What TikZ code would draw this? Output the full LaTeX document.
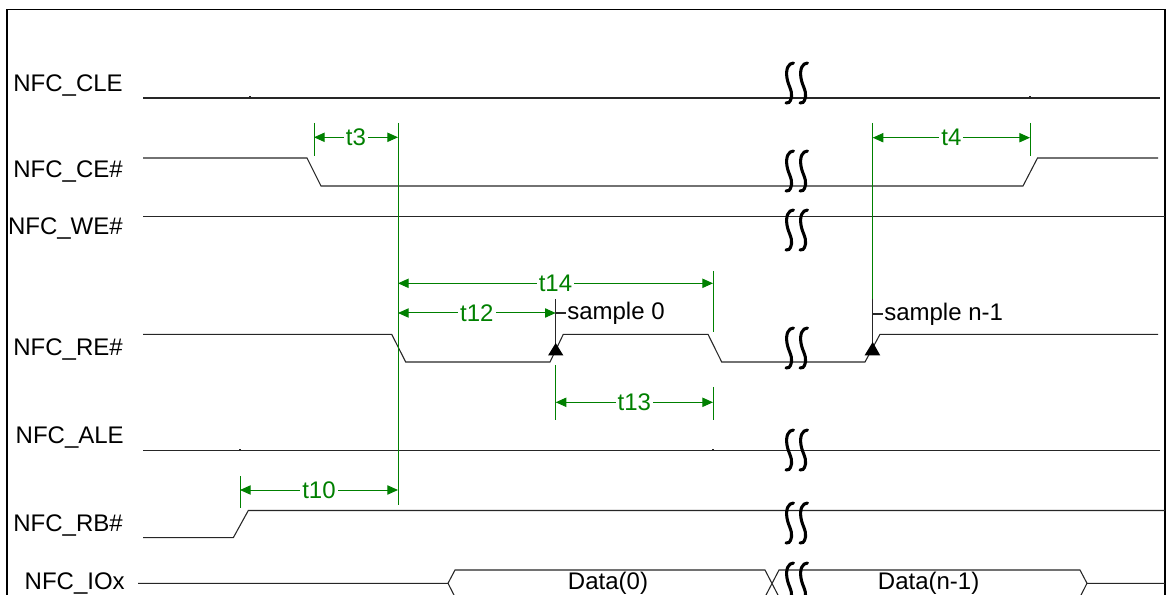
\documentclass[tikz,border=0pt]{standalone}
\usepackage{fontspec}
\setmainfont{Liberation Sans}
\usetikzlibrary{arrows.meta}
\definecolor{tgreen}{RGB}{0,128,0}
\begin{document}
\begin{tikzpicture}[x=0.75pt,y=-0.75pt,
  sig/.style={line width=0.8pt, black!85},
  ggl/.style={line width=0.75pt, tgreen},
  dimarrow/.style={ggl, {Triangle[length=8pt,width=7pt]}-{Triangle[length=8pt,width=7pt]}},
  dlab/.style={fill=white, text=tgreen, inner sep=1.5pt, font=\fontsize{18}{21}\selectfont},
  slab/.style={anchor=base east, inner sep=0pt, font=\fontsize{18}{21}\selectfont},
  tlab/.style={inner sep=0pt, font=\fontsize{18}{21}\selectfont},
  brk/.style={line width=2.3pt, black, line cap=round},
  brkpair/.pic={
    \foreach \c in {-7,7}{
      \draw[brk] (\c+3.5,0) .. controls (\c-1.5,0) and (\c-4.5,6) .. (\c-3,15)
        .. controls (\c-1.5,24) and (\c+2.5,27) .. (\c+1.5,34)
        .. controls (\c+0.5,40) and (\c-2.5,40.5) .. (\c-4,40);
    }
  }
]
\useasboundingbox (0,0) rectangle (1168,595);
\clip (0,0) rectangle (1168,595);

% frame
\draw[line width=1.2pt] (7,600) -- (7,9.5) -- (1165,9.5) -- (1165,600);

% signal names
\node[slab] (lcle) at (123,91.7) {NFC\_CLE};
\node[slab] (lce)  at (123,177.7) {NFC\_CE\#};
\node[slab] (lwe)  at (123,235) {NFC\_WE\#};
\node[slab] (lre)  at (123,356) {NFC\_RE\#};
\node[slab] (lale) at (124,443.3) {NFC\_ALE};
\node[slab] (lrb)  at (123,531.7) {NFC\_RB\#};
\node[slab] (lio)  at (125,589.3) {NFC\_IOx};

% waveforms
\draw[sig] (143,98) -- (1160,98);
\draw[sig] (250,98) -- (250,96) (1030,98) -- (1030,96);
\draw[sig] (143,158) -- (307,158) -- (321,186) -- (1023,186) -- (1037.5,158) -- (1158,158);
\draw[sig] (143,216.7) -- (1165,216.7);
\draw[sig] (143,334.3) -- (391.7,334.3) -- (405.7,362) -- (550,362) -- (563.3,334.3) -- (708,334.3) -- (721.7,362) -- (865,362) -- (880,334.3) -- (1158,334.3);
\draw[sig] (143,450.7) -- (1160,450.7);
\draw[sig] (240,450.7) -- (240,448.7) (713,450.7) -- (713,448.7);
\draw[sig] (143,537.7) -- (233.3,537.7) -- (248.3,510.5) -- (1165,510.5);
\draw[sig] (138,583.3) -- (448,583.3) -- (455,570) -- (765,570) -- (779,597);
\draw[sig] (448,583.3) -- (455,597) -- (765,597) -- (779,570) -- (1080,570) -- (1087,583.3) -- (1165,583.3);
\draw[sig] (779,597) -- (1080,597) -- (1087,583.3);
\node[tlab, anchor=base] (d0) at (608,589) {Data(0)};
\node[tlab, anchor=base] (dn) at (928.6,589) {Data(n-1)};

% break marks
\pic at (797,63) {brkpair};
\pic at (797,151) {brkpair};
\pic at (797,210) {brkpair};
\pic at (797,328) {brkpair};
\pic at (797,430) {brkpair};
\pic at (797,503) {brkpair};
\pic at (797,563) {brkpair};

% green timing lines
\coordinate (tA) at (398,123);
\coordinate (tAb) at (398,505);
\draw[ggl] (tA) -- (tAb);
\draw[ggl] (314,123) -- (314,156);
\draw[dimarrow] (314,137.3) -- (398,137.3) node[midway,dlab] (t3) {t3};
\draw[ggl] (1030,123) -- (1030,156);
\draw[ggl] (872.7,123) -- (872.7,299);
\draw[dimarrow] (872.7,137.7) -- (1030,137.7) node[midway,dlab] (t4) {t4};
\draw[ggl] (713,271) -- (713,332);
\draw[dimarrow] (398,283.3) -- (713,283.3) node[midway,dlab] (t14) {t14};
\draw[dimarrow] (398,313) -- (555.7,313) node[midway,dlab] (t12) {t12};
\draw[ggl] (555.7,365) -- (555.7,420);
\draw[ggl] (713,387) -- (713,420);
\draw[dimarrow] (555.7,402.3) -- (713,402.3) node[midway,dlab] (t13) {t13};
\draw[ggl] (240,476) -- (240,508);
\draw[dimarrow] (240,490) -- (398,490) node[midway,dlab] (t10) {t10};

% sample markers
\draw[sig] (555.7,299) -- (555.7,344) (555.7,313) -- (566,313);
\fill[black] (555.7,343) -- (548,355.5) -- (563.4,355.5) -- cycle;
\node[tlab, anchor=base west] (s0) at (567,320) {sample 0};
\draw[sig] (872.7,299) -- (872.7,344) (872.7,314) -- (883,314);
\fill[black] (872.7,342) -- (864.5,355.5) -- (880.3,355.5) -- cycle;
\node[tlab, anchor=base west] (sn) at (884,320.5) {sample n-1};
\end{tikzpicture}
\end{document}
